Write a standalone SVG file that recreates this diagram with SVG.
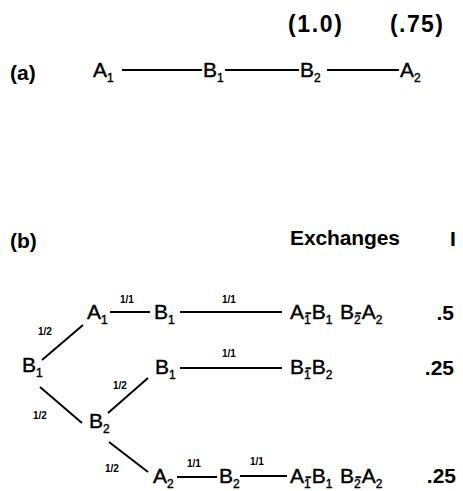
<svg xmlns="http://www.w3.org/2000/svg" width="463" height="491" viewBox="0 0 463 491">
  <style>
    text { font-family: "Liberation Sans", Arial, sans-serif; fill: #000; }
    .n { font-size: 21px; stroke: #000; stroke-width: 0.4; }
    .s { font-size: 12px; }
    .h { font-size: 21px; font-weight: bold; }
    .p { font-size: 23px; font-weight: bold; }
    .w { font-size: 10px; font-weight: bold; }
    .v { font-size: 21px; font-weight: bold; text-anchor: end; }
    .e { stroke: #000; stroke-width: 2; fill: none; stroke-linecap: butt; }
  </style>
  <rect width="463" height="491" fill="#fff"/>

  <!-- part (a): a chain of four positions -->
  <text class="h" x="10" y="80">(a)</text>
  <text class="p" x="288" y="32" textLength="54" lengthAdjust="spacing">(1.0)</text>
  <text class="p" x="390" y="32" textLength="53" lengthAdjust="spacing">(.75)</text>

  <g id="connectors">
    <!-- chain (a) -->
    <line class="e" x1="122" y1="70" x2="202" y2="70"/>
    <line class="e" x1="225" y1="70" x2="299" y2="70"/>
    <line class="e" x1="327" y1="70" x2="399" y2="70"/>

    <!-- tree (b) -->
    <line class="e" x1="42" y1="360" x2="83" y2="325"/>
    <line class="e" x1="40" y1="387" x2="82" y2="423"/>
    <line class="e" x1="108" y1="413" x2="148" y2="378"/>
    <line class="e" x1="109" y1="442" x2="148" y2="472"/>
    <line class="e" x1="110" y1="312" x2="150" y2="312"/>
    <line class="e" x1="180" y1="312" x2="282" y2="312"/>
    <line class="e" x1="180" y1="368" x2="282" y2="368"/>
    <line class="e" x1="177" y1="477" x2="217" y2="477"/>
    <line class="e" x1="240" y1="476" x2="287" y2="476"/>

    <!-- branch probabilities -->
    <text class="w" x="38" y="335">1/2</text>
    <text class="w" x="33" y="419">1/2</text>
    <text class="w" x="113" y="389">1/2</text>
    <text class="w" x="105" y="472">1/2</text>
    <text class="w" x="120" y="303">1/1</text>
    <text class="w" x="222" y="303">1/1</text>
    <text class="w" x="222" y="357">1/1</text>
    <text class="w" x="187" y="467">1/1</text>
    <text class="w" x="250" y="465">1/1</text>
  </g>

  <g id="a-A1"><text class="n" x="93" y="77">A<tspan class="s" dy="5">1</tspan></text></g>
  <g id="a-B1"><text class="n" x="203" y="77">B<tspan class="s" dy="5">1</tspan></text></g>
  <g id="a-B2"><text class="n" x="300" y="77">B<tspan class="s" dy="5">2</tspan></text></g>
  <g id="a-A2"><text class="n" x="400" y="77">A<tspan class="s" dy="5">2</tspan></text></g>

  <!-- part (b): exchange tree -->
  <text class="h" x="10" y="248">(b)</text>
  <text class="h" x="290" y="245" textLength="110" lengthAdjust="spacing">Exchanges</text>
  <text class="h" x="450" y="246">I</text>

  <g id="b-root-B1"><text class="n" x="22" y="372">B<tspan class="s" dy="5">1</tspan></text></g>
  <g id="b-A1"><text class="n" x="87" y="319">A<tspan class="s" dy="5">1</tspan></text></g>
  <g id="b-B1-top"><text class="n" x="154" y="319">B<tspan class="s" dy="5">1</tspan></text></g>
  <g id="b-B2"><text class="n" x="89" y="428">B<tspan class="s" dy="5">2</tspan></text></g>
  <g id="b-B1-mid"><text class="n" x="155" y="374">B<tspan class="s" dy="5">1</tspan></text></g>
  <g id="b-A2"><text class="n" x="153" y="483">A<tspan class="s" dy="5">2</tspan></text></g>
  <g id="b-B2-low"><text class="n" x="219" y="483">B<tspan class="s" dy="5">2</tspan></text></g>

  <!-- outcomes and their probabilities; the hyphen sits over the subscript -->
  <g id="b-out-1">
    <text class="n" x="290" y="319">A<tspan class="s" dy="5">1</tspan><tspan dy="-5" dx="-6">-</tspan>B<tspan class="s" dy="5">1</tspan></text>
    <text class="n" x="340" y="319">B<tspan class="s" dy="5">2</tspan><tspan dy="-5" dx="-6">-</tspan>A<tspan class="s" dy="5">2</tspan></text>
    <text class="v" x="454" y="320">.5</text>
  </g>
  <g id="b-out-2">
    <text class="n" x="290" y="374">B<tspan class="s" dy="5">1</tspan><tspan dy="-5" dx="-6">-</tspan>B<tspan class="s" dy="5">2</tspan></text>
    <text class="v" x="454" y="375">.25</text>
  </g>
  <g id="b-out-3">
    <text class="n" x="290" y="483">A<tspan class="s" dy="5">1</tspan><tspan dy="-5" dx="-6">-</tspan>B<tspan class="s" dy="5">1</tspan></text>
    <text class="n" x="340" y="483">B<tspan class="s" dy="5">2</tspan><tspan dy="-5" dx="-6">-</tspan>A<tspan class="s" dy="5">2</tspan></text>
    <text class="v" x="456" y="483">.25</text>
  </g>
</svg>
